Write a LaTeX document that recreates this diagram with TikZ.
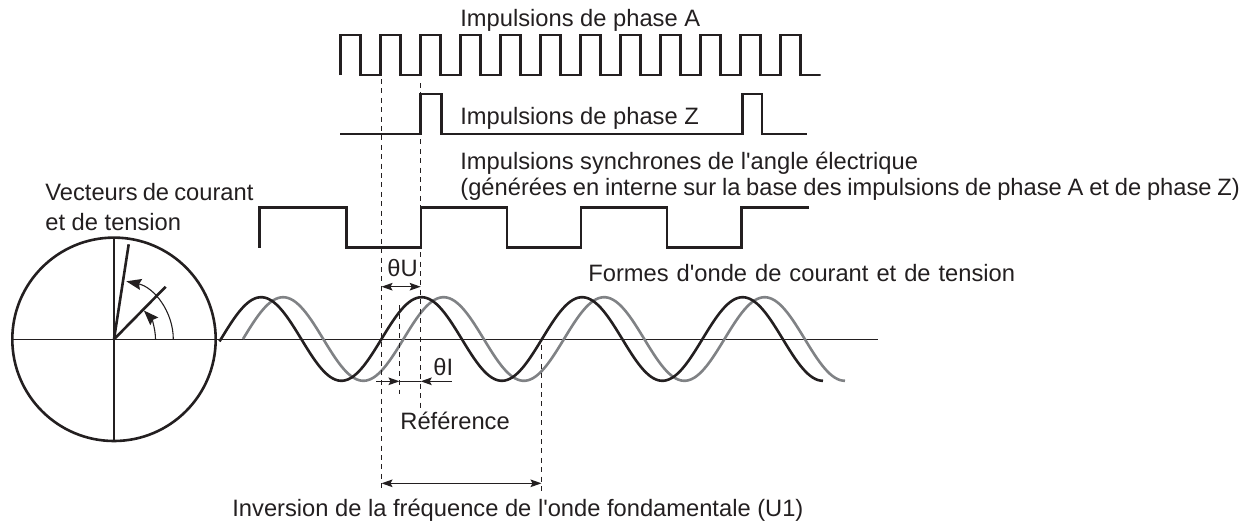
\documentclass[tikz,border=0pt]{standalone}
\usepackage{fontspec}
\setmainfont{Liberation Sans}
\usetikzlibrary{arrows.meta}
\definecolor{inkblack}{HTML}{231F20}
\definecolor{wavegrey}{HTML}{808285}
\tikzset{
  label/.style={anchor=base west,inner sep=0pt,font=\fontsize{11.85}{14}\selectfont,text=inkblack},
  pulse/.style={inkblack,line width=1.3pt,line join=miter},
  wave/.style={line width=1.3pt,smooth},
  thinline/.style={inkblack,line width=0.65pt},
  guide/.style={inkblack,line width=0.55pt,dash pattern=on 2.5pt off 2.2pt},
  span/.style={inkblack,line width=0.65pt,{Stealth[length=5.5pt,width=3.8pt,inset=1pt]}-{Stealth[length=5.5pt,width=3.8pt,inset=1pt]}},
  tipend/.style={inkblack,line width=0.65pt,-{Stealth[length=5.5pt,width=3.8pt,inset=1pt]}},
  anglearc/.style={inkblack,line width=0.55pt,-{Stealth[length=7.5pt,width=5.5pt,inset=1pt]}}
}
\begin{document}
\begin{tikzpicture}[x=0.5pt,y=-0.5pt]
  \useasboundingbox (0,0) rectangle (1255,521);
  % texts
  \node[label] (labela) at (460,26) {Impulsions de phase A};
  \node[label] (labelz) at (460,124.5) {Impulsions de phase Z};
  \node[label] (labelsync) at (460,169) {Impulsions synchrones de l\textquotesingle angle électrique};
  \node[label] (labelsyncb) at (460,195.5) {\spaceskip=2.9pt (générées en interne sur la base des impulsions de phase A et de phase Z)};
  \node[label] (labelvec) at (45,200.5) {\spaceskip=2.6pt Vecteurs de courant};
  \node[label] (labelvecb) at (45,230.5) {et de tension};
  \node[label] (labelwave) at (588,281.5) {\spaceskip=4pt Formes d\textquotesingle onde de courant et de tension};
  \node[label] (labelu) at (387,276.5) {θU};
  \node[label] (labeli) at (433,375) {θI};
  \node[label] (labelref) at (400,429) {Référence};
  \node[label] (labelinv) at (232,516) {Inversion de la fréquence de l\textquotesingle onde fondamentale (U1)};
  % pulses
  \draw[pulse] (340.7,75) \foreach \k in {0,...,11} {
      -- ({340.7+40*\k},35) -- ({360.7+40*\k},35) -- ({360.7+40*\k},75) -- ({380.7+40*\k},75)}
    -- (820,75);
  \draw[pulse] (340,134) -- (420.7,134) -- (420.7,94) -- (441.5,94) -- (441.5,134)
    -- (742.5,134) -- (742.5,94) -- (762,94) -- (762,134) -- (806.7,134);
  \draw[pulse] (259.5,247.5) -- (259.5,207.7) -- (346.7,207.7) -- (346.7,247.3) -- (421,247.3)
    -- (421,207.7) -- (507,207.7) -- (507,247.3) -- (581,247.3) -- (581,207.7) -- (667,207.7)
    -- (667,247.3) -- (741.7,247.3) -- (741.7,207.7) -- (809,207.7);
  % disc and vectors
  \node[draw=inkblack,line width=1.3pt,circle,minimum size=101.7pt,inner sep=0pt,outer sep=0pt] (disc) at (114,339.3) {};
  \coordinate (axisend) at (878,339.3);
  \coordinate (vecu) at (128.7,244.3);
  \coordinate (veci) at (165.7,286.7);
  \draw[thinline] (disc.west) -- (axisend);
  \draw[thinline] (disc.north) -- (disc.south);
  \draw[pulse] (disc.center) -- (vecu);
  \draw[pulse] (disc.center) -- (veci);
  \draw[anglearc] (173.3,339.3) arc[start angle=0,end angle=78,radius=29.65pt];
  \draw[anglearc] (155.5,339.3) arc[start angle=0,end angle=44,radius=20.75pt];
  % waves
  \draw[wave,wavegrey] plot[domain=243:845,samples=240] (\x,{339-41.8*sin((\x-243)/160.5*360)});
  \draw[wave,inkblack] plot[domain=219.5:823,samples=240] (\x,{339-41.8*sin((\x-221)/160.5*360)});
  % guides
  \coordinate (guideatop) at (381.5,79);
  \coordinate (guideabot) at (381.5,492);
  \coordinate (guideztop) at (420.7,83);
  \coordinate (guidezbot) at (420.7,408);
  \coordinate (guidectop) at (399.5,305);
  \coordinate (guidecbot) at (399.5,394);
  \coordinate (guidedtop) at (541.5,345);
  \coordinate (guidedbot) at (541.5,492);
  \draw[guide] (guideatop) -- (guideabot);
  \draw[guide] (guideztop) -- (guidezbot);
  \draw[guide] (guidectop) -- (guidecbot);
  \draw[guide] (guidedtop) -- (guidedbot);
  % spans
  \coordinate (spanual) at (381.5,286.7);
  \coordinate (spanuar) at (420.7,286.7);
  \coordinate (spanstart) at (376,381.3);
  \coordinate (spanitip) at (399.5,381.3);
  \coordinate (spanend) at (451.7,381.3);
  \coordinate (spanztip) at (420.7,381.3);
  \coordinate (spanfl) at (381.5,483.3);
  \coordinate (spanfr) at (541.5,483.3);
  \draw[span] (spanual) -- (spanuar);
  \draw[tipend] (spanstart) -- (spanitip);
  \draw[thinline] (spanitip) -- (spanztip);
  \draw[tipend] (spanend) -- (spanztip);
  \draw[span] (spanfl) -- (spanfr);
\end{tikzpicture}
\end{document}
